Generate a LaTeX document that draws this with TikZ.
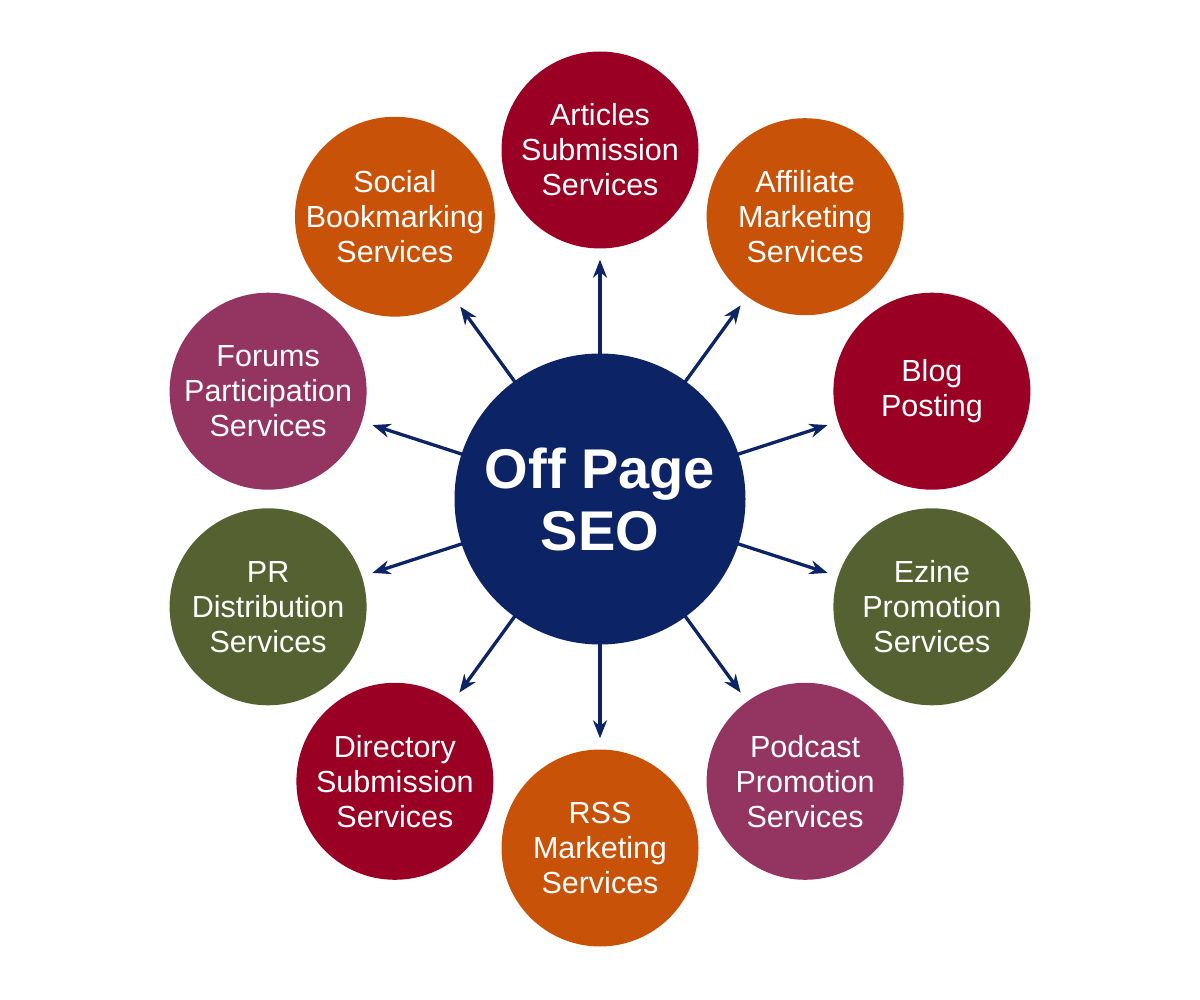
\documentclass[tikz,border=0pt]{standalone}
\usepackage{fontspec}
\setmainfont{Liberation Sans}
\usetikzlibrary{arrows.meta}
\definecolor{crim}{HTML}{9A0024}
\definecolor{orng}{HTML}{C85208}
\definecolor{purp}{HTML}{943460}
\definecolor{oliv}{HTML}{566131}
\definecolor{navy}{HTML}{0C2465}
\tikzset{
  outer/.style={circle, minimum size=197pt, inner sep=0pt, text=white, align=center,
    font=\fontsize{30.5}{35}\selectfont},
  hub/.style={circle, fill=navy, minimum size=291pt, inner sep=0pt, text=white, align=center,
    font=\fontsize{56}{62}\selectfont\bfseries},
  arr/.style={draw=navy, line width=3.3pt, -{Stealth[length=18pt,width=14pt]}, shorten >=11pt, shorten <=-2pt}
}
\begin{document}
\begin{tikzpicture}[x=1pt,y=-1pt]
\useasboundingbox (0,0) rectangle (1200,1000);
\node[hub] (c) at (600,499) {Off Page\\SEO};
\node[outer, fill=crim] (art) at (600,150) {Articles\\Submission\\Services};
\node[outer, fill=orng] (aff) at (805.1,216.7) {Affiliate\\Marketing\\Services};
\node[outer, fill=crim] (blog) at (931.9,391.2) {Blog\\Posting};
\node[outer, fill=oliv] (ez) at (931.9,606.8) {Ezine\\Promotion\\Services};
\node[outer, fill=purp] (pod) at (805.1,781.3) {Podcast\\Promotion\\Services};
\node[outer, fill=orng] (rss) at (600,848) {RSS\\Marketing\\Services};
\node[outer, fill=crim] (dir) at (394.9,781.3) {Directory\\Submission\\Services};
\node[outer, fill=oliv] (pr) at (268.1,606.8) {PR\\Distribution\\Services};
\node[outer, fill=purp] (for) at (268.1,391.2) {Forums\\Participation\\Services};
\node[outer, fill=orng] (soc) at (394.9,216.7) {Social\\Bookmarking\\Services};
\foreach \t in {art,aff,blog,ez,pod,rss,dir,pr,for,soc}
  \draw[arr] (c) -- (\t);
\end{tikzpicture}
\end{document}
